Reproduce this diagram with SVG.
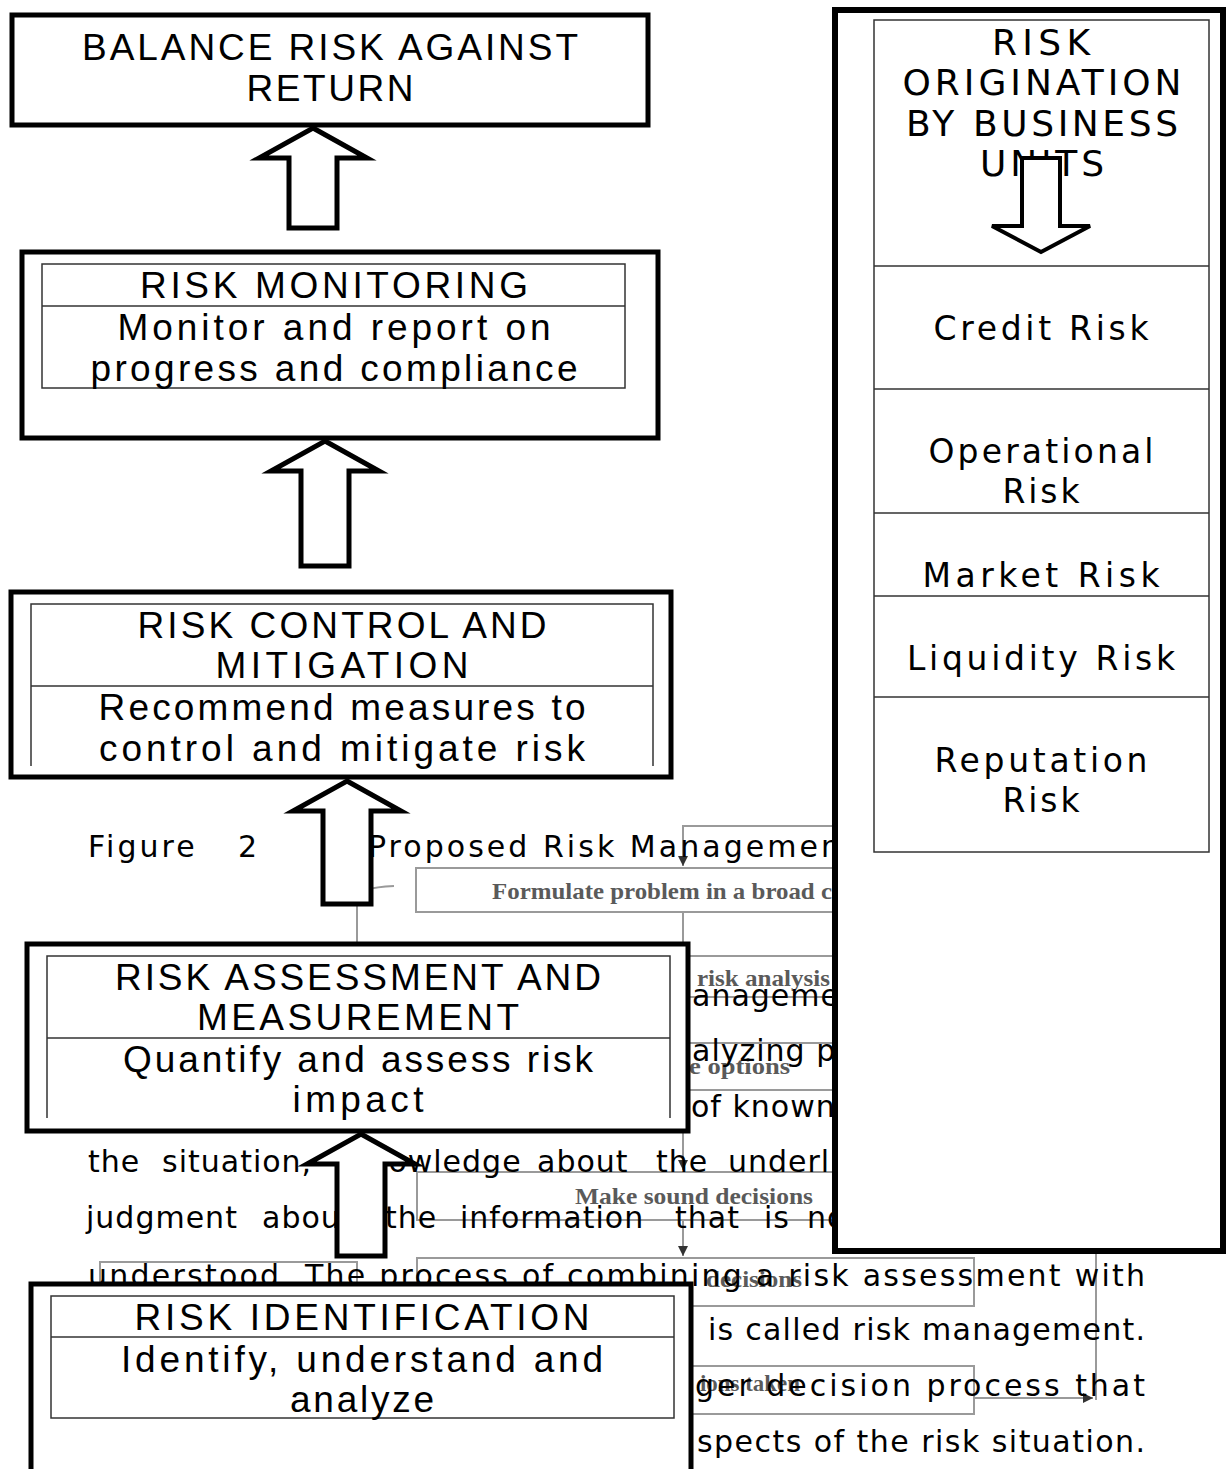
<svg xmlns="http://www.w3.org/2000/svg" width="1232" height="1469" viewBox="0 0 1232 1469">
<style>
.outer{fill:#fff;stroke:#000;stroke-width:5}
.router{fill:#fff;stroke:#000;stroke-width:6}
.inner{fill:none;stroke:#333;stroke-width:1.5}
.lbl{font-family:"Liberation Sans",Arial,sans-serif;font-size:37px;fill:#000;text-anchor:middle}
.rlbl{font-family:"DejaVu Sans",Verdana,sans-serif;font-size:33px;fill:#000;text-anchor:middle}
.rhead{font-family:"DejaVu Sans",Verdana,sans-serif;font-size:36px;fill:#000;text-anchor:middle}
.para{font-family:"DejaVu Sans",Verdana,sans-serif;font-size:30px;fill:#000}
.gtxt{font-family:"Liberation Serif","Times New Roman",serif;font-weight:bold;font-size:24px;fill:#5a5a5a}
.gline{fill:none;stroke:#9a9a9a;stroke-width:2}
.arrow{fill:#fff;stroke:#000;stroke-width:5;stroke-linejoin:miter}
</style>
<defs>
<marker id="gh" viewBox="0 0 10 10" refX="10" refY="5" markerWidth="5" markerHeight="5" orient="auto" markerUnits="strokeWidth">
<path d="M0,0 L10,5 L0,10 Z" fill="#333"/>
</marker>
</defs>
<rect width="1232" height="1469" fill="#fff"/>

<g id="background-flowchart">
<path class="gline" d="M846,826 H683 V866" marker-end="url(#gh)"/>
<rect class="gline" x="416" y="868" width="430" height="44"/>
<path class="gline" d="M683,912 V955"/>
<rect class="gline" x="400" y="956" width="446" height="41"/>
<rect class="gline" x="400" y="1043" width="446" height="47"/>
<path class="gline" d="M683,1090 V1170" marker-end="url(#gh)"/>
<rect class="gline" x="417" y="1172" width="429" height="48"/>
<path class="gline" d="M683,1220 V1256" marker-end="url(#gh)"/>
<rect class="gline" x="417" y="1258" width="557" height="48"/>
<rect class="gline" x="417" y="1366" width="557" height="48"/>
<path class="gline" d="M974,1398 H1093" marker-end="url(#gh)"/>
<path class="gline" d="M1096,1200 V1400"/>
<path class="gline" d="M357,945 V896 Q358,888 394,886"/>
<rect class="gline" x="100" y="1262" width="257" height="60"/>
<text class="gtxt" x="492" y="899" textLength="340" lengthAdjust="spacingAndGlyphs">Formulate problem in a broad c</text>
<text class="gtxt" x="697" y="986" textLength="133" lengthAdjust="spacingAndGlyphs">risk analysis</text>
<text class="gtxt" x="689" y="1074" textLength="101" lengthAdjust="spacingAndGlyphs">e options</text>
<text class="gtxt" x="575" y="1204" textLength="238" lengthAdjust="spacingAndGlyphs">Make sound decisions</text>
<text class="gtxt" x="706" y="1287" textLength="96" lengthAdjust="spacingAndGlyphs">decisions</text>
<text class="gtxt" x="700" y="1391" textLength="100" lengthAdjust="spacingAndGlyphs">ions taken</text>
</g>

<g id="paragraph">
<text class="para" x="88" y="857" letter-spacing="3">Figure</text>
<text class="para" x="238" y="857">2</text>
<text class="para" x="368" y="857" textLength="472" lengthAdjust="spacing">Proposed Risk Managemen</text>
<text class="para" x="692" y="1006" letter-spacing="1">anageme</text>
<text class="para" x="692" y="1061" letter-spacing="1">alyzing p</text>
<text class="para" x="691" y="1117" letter-spacing="1">of known</text>
<text class="para" y="1172" letter-spacing="1"><tspan x="88">the</tspan><tspan x="162">situation,</tspan><tspan x="350">knowledge</tspan><tspan x="537">about</tspan><tspan x="656">the</tspan><tspan x="728">underl</tspan></text>
<text class="para" y="1228" letter-spacing="1"><tspan x="86">judgment</tspan><tspan x="262">about</tspan><tspan x="385">the</tspan><tspan x="460">information</tspan><tspan x="675">that</tspan><tspan x="764">is</tspan><tspan x="807">not</tspan></text>
<text class="para" x="88" y="1286" textLength="1057" lengthAdjust="spacing">understood. The process of combining a risk assessment with</text>
<text class="para" x="708" y="1340" textLength="437" lengthAdjust="spacing">is called risk management.</text>
<text class="para" x="695" y="1396" textLength="450" lengthAdjust="spacing">ger decision process that</text>
<text class="para" x="697" y="1452" textLength="448" lengthAdjust="spacing">spects of the risk situation.</text>
</g>

<g id="node-balance">
<rect class="outer" x="12" y="15" width="636" height="110"/>
<text class="lbl" x="330" y="60" textLength="496" lengthAdjust="spacing">BALANCE RISK AGAINST</text>
<text class="lbl" x="330" y="101" textLength="167" lengthAdjust="spacing">RETURN</text>
</g>

<g id="node-monitoring">
<rect class="outer" x="22" y="252" width="636" height="186"/>
<rect class="inner" x="42" y="264" width="583" height="124"/>
<line class="inner" x1="42" y1="306" x2="625" y2="306"/>
<text class="lbl" x="334" y="298" textLength="388" lengthAdjust="spacing">RISK MONITORING</text>
<text class="lbl" x="334" y="340" textLength="433" lengthAdjust="spacing">Monitor and report on</text>
<text class="lbl" x="334" y="381" textLength="487" lengthAdjust="spacing">progress and compliance</text>
</g>

<g id="node-control">
<rect class="outer" x="11" y="592" width="660" height="185"/>
<path class="inner" d="M31,766 V604 H653 V766 M31,686 H653"/>
<text class="lbl" x="342" y="638" textLength="409" lengthAdjust="spacing">RISK CONTROL AND</text>
<text class="lbl" x="342" y="678" textLength="253" lengthAdjust="spacing">MITIGATION</text>
<text class="lbl" x="342" y="720" textLength="487" lengthAdjust="spacing">Recommend measures to</text>
<text class="lbl" x="342" y="761" textLength="486" lengthAdjust="spacing">control and mitigate risk</text>
</g>

<g id="node-assessment">
<rect class="outer" x="27" y="944" width="661" height="187"/>
<path class="inner" d="M47,1118 V956 H670 V1118 M47,1038 H670"/>
<text class="lbl" x="358" y="990" textLength="486" lengthAdjust="spacing">RISK ASSESSMENT AND</text>
<text class="lbl" x="358" y="1030" textLength="322" lengthAdjust="spacing">MEASUREMENT</text>
<text class="lbl" x="358" y="1072" textLength="470" lengthAdjust="spacing">Quantify and assess risk</text>
<text class="lbl" x="358" y="1112" textLength="131" lengthAdjust="spacing">impact</text>
</g>

<g id="node-identification">
<rect class="outer" x="31" y="1284" width="660" height="200"/>
<rect class="inner" x="51" y="1296" width="623" height="122"/>
<line class="inner" x1="51" y1="1337" x2="674" y2="1337"/>
<text class="lbl" x="362" y="1330" textLength="455" lengthAdjust="spacing">RISK IDENTIFICATION</text>
<text class="lbl" x="362" y="1372" textLength="482" lengthAdjust="spacing">Identify, understand and</text>
<text class="lbl" x="362" y="1412" textLength="144" lengthAdjust="spacing">analyze</text>
</g>

<g id="node-origination">
<rect class="router" x="835" y="10" width="388" height="1241"/>
<rect class="inner" x="874" y="20" width="335" height="832"/>
<path class="inner" d="M874,266 H1209 M874,389 H1209 M874,513 H1209 M874,596 H1209 M874,697 H1209"/>
<text class="rhead" x="1041" y="55" textLength="98" lengthAdjust="spacing">RISK</text>
<text class="rhead" x="1042" y="95" textLength="279" lengthAdjust="spacing">ORIGINATION</text>
<text class="rhead" x="1042" y="136" textLength="272" lengthAdjust="spacing">BY BUSINESS</text>
<text class="rhead" x="1042" y="176" textLength="124" lengthAdjust="spacing">UNITS</text>
<text class="rlbl" x="1041" y="340" textLength="215" lengthAdjust="spacing">Credit Risk</text>
<text class="rlbl" x="1041" y="463" textLength="225" lengthAdjust="spacing">Operational</text>
<text class="rlbl" x="1041" y="503" textLength="77" lengthAdjust="spacing">Risk</text>
<text class="rlbl" x="1041" y="587" textLength="237" lengthAdjust="spacing">Market Risk</text>
<text class="rlbl" x="1041" y="670" textLength="268" lengthAdjust="spacing">Liquidity Risk</text>
<text class="rlbl" x="1041" y="772" textLength="213" lengthAdjust="spacing">Reputation</text>
<text class="rlbl" x="1041" y="812" textLength="77" lengthAdjust="spacing">Risk</text>
</g>

<g id="connectors">
<path class="arrow" d="M313,128 L367,158 L337,158 L337,228 L289,228 L289,158 L259,158 Z"/>
<path class="arrow" d="M325,441 L379,471 L349,471 L349,566 L301,566 L301,471 L271,471 Z"/>
<path class="arrow" d="M347,781 L401,811 L371,811 L371,904 L323,904 L323,811 L293,811 Z"/>
<path class="arrow" d="M361,1134 L415,1164 L385,1164 L385,1256 L337,1256 L337,1164 L307,1164 Z"/>
<path class="arrow" style="stroke-width:4" d="M1022,158 L1060,158 L1060,226 L1090,226 L1041,252 L992,226 L1022,226 Z"/>
</g>
</svg>
